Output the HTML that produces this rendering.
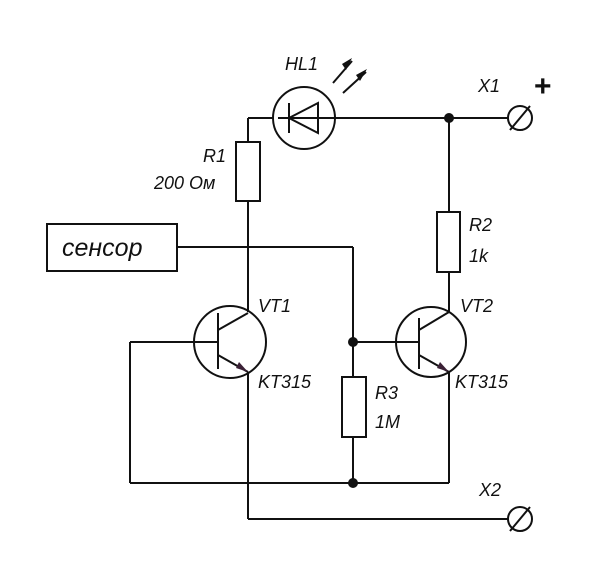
<!DOCTYPE html>
<html><head><style>
html,body{margin:0;padding:0;background:#fff;}
svg text{font-family:"Liberation Sans",Arial,sans-serif;font-style:italic;fill:#111;}
</style></head><body>
<svg width="605" height="579" viewBox="0 0 605 579" xmlns="http://www.w3.org/2000/svg">
<g stroke="#111" stroke-width="2" fill="none">
<!-- top wire -->
<line x1="248" y1="118" x2="508" y2="118"/>
<line x1="248" y1="118" x2="248" y2="142"/>
<rect x="236" y="142" width="24" height="59" fill="#fff"/>
<line x1="248" y1="201" x2="248" y2="312"/>
<!-- LED -->
<circle cx="304" cy="118" r="31" fill="#fff"/>
<line x1="289" y1="103" x2="289" y2="133"/>
<polygon points="289,118 318,103 318,133"/>
<line x1="278" y1="118" x2="334" y2="118"/>
<line x1="333" y1="83" x2="352" y2="61"/>
<line x1="343" y1="93" x2="366" y2="72"/>
<!-- X1 -->
<circle cx="520" cy="118" r="12" fill="#fff"/>
<line x1="510" y1="130" x2="530" y2="106"/>
<!-- R2 -->
<line x1="449" y1="118" x2="449" y2="212"/>
<rect x="437" y="212" width="23" height="60"/>
<line x1="449" y1="272" x2="449" y2="312"/>
<!-- sensor -->
<rect x="47" y="224" width="130" height="47"/>
<line x1="177" y1="247" x2="353" y2="247"/>
<line x1="353" y1="247" x2="353" y2="377"/>
<rect x="342" y="377" width="24" height="60"/>
<line x1="353" y1="437" x2="353" y2="483"/>
<!-- VT1 -->
<circle cx="230" cy="342" r="36"/>
<line x1="218" y1="313" x2="218" y2="369"/>
<line x1="218" y1="330" x2="248" y2="313"/>
<line x1="218" y1="355" x2="248" y2="372"/>
<line x1="130" y1="342" x2="218" y2="342"/>
<line x1="130" y1="342" x2="130" y2="483"/>
<line x1="130" y1="483" x2="449" y2="483"/>
<line x1="248" y1="372" x2="248" y2="519"/>
<line x1="248" y1="519" x2="508" y2="519"/>
<!-- VT2 -->
<circle cx="431" cy="342" r="35"/>
<line x1="419" y1="318" x2="419" y2="369"/>
<line x1="419" y1="330" x2="449" y2="312"/>
<line x1="419" y1="355" x2="449" y2="372"/>
<line x1="353" y1="342" x2="419" y2="342"/>
<line x1="449" y1="372" x2="449" y2="483"/>
<!-- X2 -->
<circle cx="520" cy="519" r="12" fill="#fff"/>
<line x1="510" y1="531" x2="530" y2="507"/>
</g>
<g fill="#111">
<polygon points="352,58 346,70 342,64"/>
<polygon points="367,69 360,81 356,75"/>
<polygon points="248,372 236,368 239,362" fill="#3a2035"/>
<polygon points="449,372 437,368 440,362" fill="#3a2035"/>
<circle cx="449" cy="118" r="5"/>
<circle cx="353" cy="342" r="5"/>
<circle cx="353" cy="483" r="5"/>
</g>
<text x="285" y="70" font-size="18">HL1</text>
<text x="478" y="92" font-size="18">X1</text>
<text x="534" y="96" font-size="30" font-weight="bold" style="font-style:normal">+</text>
<text x="203" y="162" font-size="18">R1</text>
<text x="154" y="189" font-size="18">200 Ом</text>
<text x="62" y="256" font-size="25">сенсор</text>
<text x="469" y="231" font-size="18">R2</text>
<text x="469" y="262" font-size="18">1k</text>
<text x="258" y="312" font-size="18">VT1</text>
<text x="258" y="388" font-size="18">KT315</text>
<text x="460" y="312" font-size="18">VT2</text>
<text x="455" y="388" font-size="18">KT315</text>
<text x="375" y="399" font-size="18">R3</text>
<text x="375" y="428" font-size="18">1M</text>
<text x="479" y="496" font-size="18">X2</text>
</svg>
</body></html>
